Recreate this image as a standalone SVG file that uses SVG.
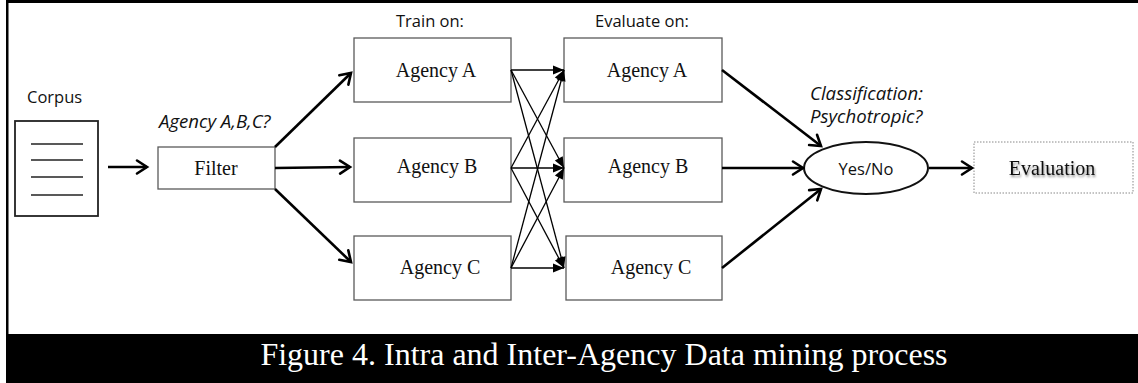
<svg xmlns="http://www.w3.org/2000/svg" width="1138" height="383" viewBox="0 0 1138 383">
  <style>
    .box { fill: #fff; stroke: #5a5a5a; stroke-width: 1.3; }
    .serif { font-family: "Liberation Serif", "Times New Roman", serif; font-size: 20px; fill: #111; text-anchor: middle; }
    .sans { font-family: "Open Sans", "Liberation Sans", sans-serif; font-size: 16.5px; fill: #111; }
    .ital { font-family: "Open Sans", "Liberation Sans", sans-serif; font-size: 18.6px; font-style: italic; fill: #111; }
    .thick { stroke: #000; stroke-width: 2.6; fill: none; marker-end: url(#open); }
    .thin { stroke: #000; stroke-width: 1.3; fill: none; marker-end: url(#solid); }
  </style>
  <defs>
    <marker id="open" markerUnits="userSpaceOnUse" viewBox="-12 -8 14 16" markerWidth="14" markerHeight="16" refX="0" refY="0" orient="auto" overflow="visible">
      <path d="M-10,-6.5 L0,0 L-10,6.5" fill="none" stroke="#000" stroke-width="2.6" stroke-linecap="round" stroke-linejoin="miter"/>
    </marker>
    <marker id="solid" markerUnits="userSpaceOnUse" viewBox="-12 -6 13 12" markerWidth="13" markerHeight="12" refX="0" refY="0" orient="auto" overflow="visible">
      <path d="M-11,-4.5 L0,0 L-11,4.5 Z" fill="#000"/>
    </marker>
    <filter id="shadow" x="-10%" y="-20%" width="130%" height="160%">
      <feDropShadow dx="1" dy="2" stdDeviation="1.2" flood-color="#000" flood-opacity="0.45"/>
    </filter>
  </defs>

  <rect width="1138" height="383" fill="#fff"/>

  <!-- frame and caption band -->
  <g id="frame">
    <rect x="6" y="0" width="1132" height="3" fill="#000"/>
    <rect x="6" y="0" width="2.5" height="383" fill="#000"/>
    <rect x="6" y="334" width="1132" height="49" fill="#000"/>
    <text x="604" y="365" font-family="'Liberation Serif', 'Times New Roman', serif" font-size="32" fill="#fff" text-anchor="middle">Figure 4. Intra and Inter-Agency Data mining process</text>
  </g>

  <!-- column headings -->
  <text class="sans" x="396" y="27">Train on:</text>
  <text class="sans" x="595" y="27" font-size="17">Evaluate on:</text>

  <g id="corpus">
    <text class="sans" x="27" y="103">Corpus</text>
    <rect x="15" y="121" width="83" height="95" fill="#fff" stroke="#222" stroke-width="1.8"/>
    <g stroke="#222" stroke-width="1.5">
      <line x1="31" y1="144" x2="83" y2="144"/>
      <line x1="31" y1="160" x2="83" y2="160"/>
      <line x1="31" y1="177" x2="83" y2="177"/>
      <line x1="31" y1="195" x2="83" y2="195"/>
    </g>
  </g>

  <g id="filter">
    <text class="ital" x="159" y="128">Agency A,B,C?</text>
    <rect class="box" x="158" y="147" width="117" height="42"/>
    <text class="serif" x="216" y="175">Filter</text>
  </g>

  <g id="train-a">
    <rect class="box" x="354" y="38" width="157" height="64"/>
    <text class="serif" x="436" y="77">Agency A</text>
  </g>
  <g id="train-b">
    <rect class="box" x="354" y="138" width="157" height="64"/>
    <text class="serif" x="437" y="173">Agency B</text>
  </g>
  <g id="train-c">
    <rect class="box" x="354" y="236" width="157" height="64"/>
    <text class="serif" x="440" y="274">Agency C</text>
  </g>

  <g id="eval-a">
    <rect class="box" x="564" y="38" width="158" height="64"/>
    <text class="serif" x="647" y="77">Agency A</text>
  </g>
  <g id="eval-b">
    <rect class="box" x="564" y="138" width="158" height="64"/>
    <text class="serif" x="648" y="173">Agency B</text>
  </g>
  <g id="eval-c">
    <rect class="box" x="566" y="236" width="156" height="64"/>
    <text class="serif" x="651" y="274">Agency C</text>
  </g>

  <g id="classifier">
    <text class="ital" x="810" y="100">Classification:</text>
    <text class="ital" x="810" y="123">Psychotropic?</text>
    <ellipse cx="866" cy="168" rx="62" ry="26" fill="#fff" stroke="#111" stroke-width="2"/>
    <text class="sans" x="866" y="175" font-size="17" text-anchor="middle">Yes/No</text>
  </g>

  <g id="evaluation">
    <rect x="974" y="142" width="159" height="51" fill="#fff" stroke="#888" stroke-width="1" stroke-dasharray="1.5 1.5"/>
    <text class="serif" x="1052" y="175" filter="url(#shadow)">Evaluation</text>
  </g>

  <g id="connectors">
    <line class="thick" x1="108" y1="167" x2="147" y2="167"/>
    <line class="thick" x1="275" y1="147" x2="351" y2="73"/>
    <line class="thick" x1="275" y1="168" x2="350" y2="167"/>
    <line class="thick" x1="275" y1="189" x2="351" y2="262"/>

    <line class="thin" x1="511" y1="70" x2="564" y2="70"/>
    <line class="thin" x1="511" y1="70" x2="564" y2="168"/>
    <line class="thin" x1="511" y1="70" x2="564" y2="268"/>
    <line class="thin" x1="511" y1="168" x2="564" y2="70"/>
    <line class="thin" x1="511" y1="168" x2="564" y2="168"/>
    <line class="thin" x1="511" y1="168" x2="564" y2="268"/>
    <line class="thin" x1="511" y1="268" x2="564" y2="70"/>
    <line class="thin" x1="511" y1="268" x2="564" y2="168"/>
    <line class="thin" x1="511" y1="268" x2="564" y2="268"/>

    <line class="thick" x1="722" y1="70" x2="821" y2="146"/>
    <line class="thick" x1="722" y1="168" x2="803" y2="168"/>
    <line class="thick" x1="722" y1="268" x2="821" y2="189"/>
    <line class="thick" x1="929" y1="168" x2="972" y2="168"/>
  </g>
</svg>
